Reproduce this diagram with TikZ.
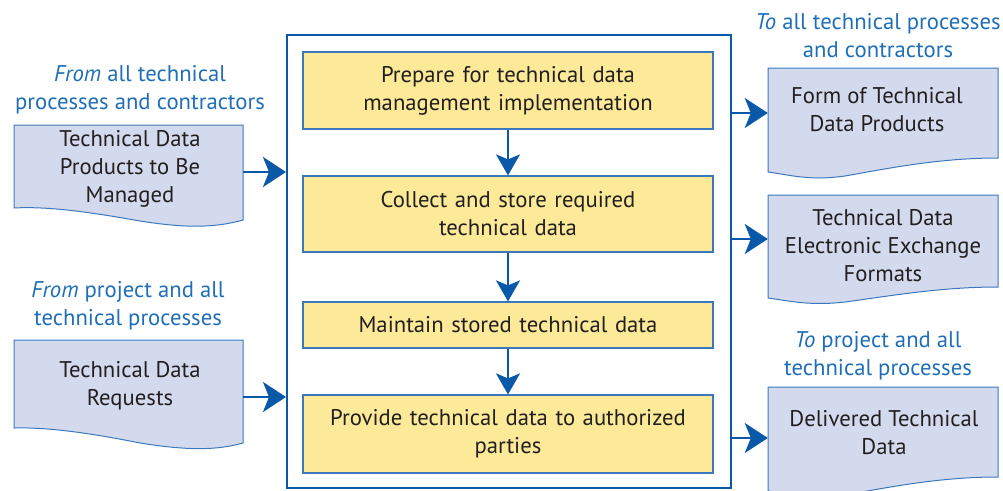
\documentclass[tikz,border=0pt]{standalone}
\usepackage{fontspec}
\setmainfont{PT Sans}
\usetikzlibrary{arrows.meta}
\definecolor{fblue}{RGB}{10,88,168}
\definecolor{lblue}{RGB}{30,110,185}
\definecolor{bblue}{RGB}{60,120,190}
\definecolor{docfill}{RGB}{212,218,238}
\definecolor{procfill}{RGB}{252,234,152}
\definecolor{txt}{RGB}{35,31,32}
\begin{document}
\begin{tikzpicture}[x=1pt,y=-1pt,
  proc/.style={draw=bblue, line width=1.2pt, fill=procfill, minimum width=410pt,
    text width=400pt, align=center, text=txt, inner sep=0pt,
    font=\fontsize{22.7}{28}\selectfont},
  docshape/.style={draw=bblue, line width=1pt, fill=docfill},
  doctext/.style={align=center, text=txt, inner sep=0pt, font=\fontsize{22.7}{28}\selectfont},
  lbl/.style={align=center, text=lblue, inner sep=0pt, font=\fontsize{22.7}{28}\selectfont},
  harr/.style={draw=fblue, line width=2.5pt, -{Stealth[length=23pt,width=30pt,inset=6pt]}},
  varr/.style={draw=fblue, line width=2.5pt, -{Stealth[length=21pt,width=24pt,inset=5pt]}}
]
\useasboundingbox (0,0) rectangle (1003,490);

% main frame
\node[draw=fblue, line width=2pt, minimum width=444pt, minimum height=453pt, inner sep=0pt] (frame) at (509,261.5) {};

% process boxes
\node[proc, minimum height=77pt] (p1) at (508,90.5) {Prepare for technical data\\management implementation};
\node[proc, minimum height=76pt] (p2) at (508,214) {Collect and store required\\technical data};
\node[proc, minimum height=46pt] (p3) at (508,325) {Maintain stored technical data};
\node[proc, minimum height=78pt] (p4) at (508,434) {Provide technical data to authorized\\parties};

\draw[varr] (p1) -- (p2);
\draw[varr] (p2) -- (p3);
\draw[varr] (p3) -- (p4);

% left documents
\path[docshape] (14,125) -- (243,125) -- (243,220)
  .. controls (218,227) and (190,229) .. (140,221)
  .. controls (95,213) and (50,206) .. (14,208) -- cycle;
\node[doctext, minimum width=229pt] (ld1) at (130,169) {Technical Data\\Products to Be\\Managed};

\path[docshape] (14,340) -- (243,340) -- (243,443)
  .. controls (218,450) and (190,451) .. (140,443)
  .. controls (95,434) and (50,427) .. (14,428) -- cycle;
\node[doctext, minimum width=229pt] (ld2) at (130,386) {Technical Data\\Requests};

% right documents
\path[docshape] (768,68) -- (998,68) -- (998,158)
  .. controls (940,158) and (890,168) .. (845,176)
  .. controls (810,181) and (790,175) .. (768,172) -- cycle;
\node[doctext, minimum width=230pt] (rd1) at (877,110) {Form of Technical\\Data Products};

\path[docshape] (768,195) -- (998,195) -- (998,287)
  .. controls (940,287) and (890,296) .. (845,302)
  .. controls (810,306) and (790,301) .. (768,298) -- cycle;
\node[doctext, minimum width=230pt] (rd2) at (883,246) {Technical Data\\Electronic Exchange\\Formats};

\path[docshape] (768,387) -- (998,387) -- (998,477)
  .. controls (940,477) and (890,487) .. (845,495)
  .. controls (810,500) and (790,494) .. (768,491) -- cycle;
\node[doctext, minimum width=230pt] (rd3) at (884,433) {Delivered Technical\\Data};

% labels
\node[lbl] (l1) at (140,90) {\textit{From} all technical\\processes and contractors};
\node[lbl] (l2) at (128,306) {\textit{From} project and all\\technical processes};
\node[lbl] (l3) at (878,36) {\textit{To} all technical processes\\and contractors};
\node[lbl] (l4) at (878,356) {\textit{To} project and all\\technical processes};

% connectors
\path (ld1.east) ++(-1.5,3) coordinate (s1);
\path (ld2.east) ++(-1.5,11) coordinate (s2);
\draw[harr] (s1) -- (s1 -| frame.west);
\draw[harr] (s2) -- (s2 -| frame.west);

\path (rd1.west) ++(6,3) coordinate (t1);
\path (rd2.west) ++(0,-7) coordinate (t2);
\path (rd3.west) ++(-1,5) coordinate (t3);
\draw[harr] (t1 -| frame.east) -- (t1);
\draw[harr] (t2 -| frame.east) -- (t2);
\draw[harr] (t3 -| frame.east) -- (t3);
\end{tikzpicture}
\end{document}
